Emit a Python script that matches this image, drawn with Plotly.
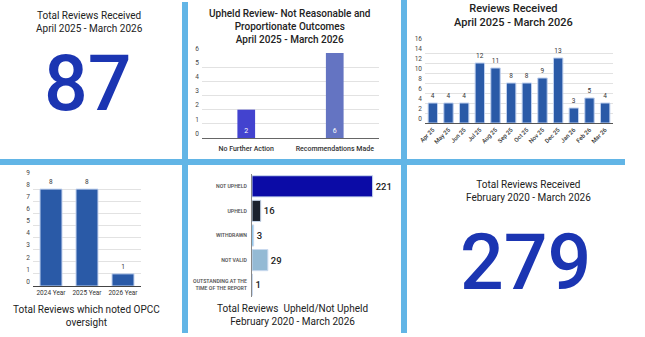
import plotly.graph_objects as go

W, H = 645, 337

# ---------------- data ----------------
kpi_year_title = "Total Reviews Received<br>April 2025 - March 2026"
kpi_year_value = 87
kpi_all_title = "Total Reviews Received<br>February 2020 - March 2026"
kpi_all_value = 279

upheld_cats = ["No Further Action", "Recommendations Made"]
upheld_vals = [2, 6]
upheld_colors = ["#4343CF", "#6474C2"]

month_cats = ["Apr 25", "May 25", "Jun 25", "Jul 25", "Aug 25", "Sep 25",
              "Oct 25", "Nov 25", "Dec 25", "Jan 26", "Feb 26", "Mar 26"]
month_vals = [4, 4, 4, 12, 11, 8, 8, 9, 13, 3, 5, 4]

opcc_cats = ["2024 Year", "2025 Year", "2026 Year"]
opcc_vals = [8, 8, 1]

outcome_cats = ["NOT UPHELD", "UPHELD", "WITHDRAWN", "NOT VALID",
                "OUTSTANDING AT THE<br>TIME OF THE REPORT"]
outcome_vals = [221, 16, 3, 29, 1]
outcome_colors = ["#0B0BA6", "#1B222E", "#5DB8EA", "#94BAD4", "#8A7FC0"]

# ---------------- helpers ----------------
def px(x):
    return x / W

def py(y):
    return 1 - y / H

FONT = "Roboto"
BAR_BLUE = "#2A5AA7"
SEP = "#62B5E6"
NUM_BLUE = "#1B35B2"

fig = go.Figure()

# Panel 2: upheld review outcomes
fig.add_trace(go.Bar(
    x=upheld_cats, y=upheld_vals, marker=dict(color=upheld_colors, line=dict(width=0)),
    width=0.2, text=upheld_vals, textposition="inside", insidetextanchor="start",
    textfont=dict(family=FONT, size=7, color="white"),
    xaxis="x", yaxis="y", hoverinfo="skip"))

# Panel 3: monthly reviews
fig.add_trace(go.Bar(
    x=month_cats, y=month_vals,
    marker=dict(color=BAR_BLUE, line=dict(color="#BFD0EE", width=1)),
    width=0.6, text=month_vals, textposition="outside", cliponaxis=False,
    textfont=dict(family=FONT, size=6.5, color="#333"),
    xaxis="x2", yaxis="y2", hoverinfo="skip"))

# Panel 4: OPCC oversight
fig.add_trace(go.Bar(
    x=opcc_cats, y=opcc_vals,
    marker=dict(color=BAR_BLUE, line=dict(color="#BFD0EE", width=1)),
    width=0.61, text=opcc_vals, textposition="outside", cliponaxis=False,
    textfont=dict(family=FONT, size=6.5, color="#333"),
    xaxis="x3", yaxis="y3", hoverinfo="skip"))

# Panel 5: outcomes horizontal
fig.add_trace(go.Bar(
    y=outcome_cats, x=outcome_vals, orientation="h",
    marker=dict(color=outcome_colors, line=dict(color="#C9D9EE", width=1)),
    width=0.86, text=outcome_vals, textposition="outside", cliponaxis=False,
    textfont=dict(family=FONT, size=9.5, color="#222", weight=500),
    xaxis="x4", yaxis="y4", hoverinfo="skip"))

tickfont = dict(family=FONT, size=6.5, color="#444")
grid = "#E2E2E2"

layout = dict(
    width=W, height=H, margin=dict(l=0, r=0, t=0, b=0, autoexpand=False),
    paper_bgcolor="white", plot_bgcolor="white", showlegend=False,
    font=dict(family=FONT),
    # panel 2
    xaxis=dict(domain=[px(202), px(379)], anchor="y", range=[-0.5, 1.5], automargin=False,
               showgrid=False, ticks="", tickfont=dict(family=FONT, size=7, color="#333", weight=500),
               ticklabelstandoff=4,
               showline=True, linecolor="#666", linewidth=1, fixedrange=True),
    yaxis=dict(domain=[py(138), py(53)], anchor="x", range=[0, 6], dtick=1, automargin=False,
               showgrid=True, gridcolor=grid, zeroline=False, ticks="",
               ticklabelposition="outside top", tickfont=tickfont, ticklabelstandoff=2),
    # panel 3
    xaxis2=dict(domain=[px(425), px(613)], anchor="y2", range=[-0.5, 11.5], automargin=False,
                showgrid=False, ticks="", tickangle=-45,
                tickfont=dict(family=FONT, size=6, color="#333", weight=500),
                showline=True, linecolor="#555", linewidth=1),
    yaxis2=dict(domain=[py(123), py(43)], anchor="x2", range=[0, 16], dtick=2, automargin=False,
                showgrid=True, gridcolor=grid, zeroline=False, ticks="",
                ticklabelposition="outside top", tickfont=tickfont, ticklabelstandoff=2),
    # panel 4
    xaxis3=dict(domain=[px(33), px(141)], anchor="y3", range=[-0.5, 2.5], automargin=False,
                showgrid=False, ticks="",
                tickfont=dict(family=FONT, size=6.5, color="#333"),
                showline=True, linecolor="#444", linewidth=1),
    yaxis3=dict(domain=[py(286), py(177)], anchor="x3", range=[0, 9], dtick=1, automargin=False,
                showgrid=True, gridcolor=grid, zeroline=False, ticks="",
                ticklabelposition="outside top", tickfont=tickfont, ticklabelstandoff=2),
    # panel 5
    xaxis4=dict(domain=[px(252), px(383)], anchor="y4", range=[0, 240], automargin=False,
                visible=False),
    yaxis4=dict(domain=[py(297), py(174)], anchor="x4", range=[4.5, -0.5], automargin=False,
                showgrid=False, ticks="", showline=True, linecolor="#888", linewidth=1,
                tickfont=dict(family=FONT, size=5.2, color="#555", weight=600),
                ticklabelstandoff=3),
)
fig.update_layout(**layout)

# ---------------- separators ----------------
shapes = [
    dict(type="line", xref="paper", yref="paper", x0=px(185), x1=px(185), y0=py(2), y1=py(333),
         line=dict(color=SEP, width=6)),
    dict(type="line", xref="paper", yref="paper", x0=px(404), x1=px(404), y0=py(0), y1=py(333),
         line=dict(color=SEP, width=6)),
    dict(type="line", xref="paper", yref="paper", x0=px(0), x1=px(625), y0=py(162), y1=py(162),
         line=dict(color=SEP, width=6)),
]
fig.update_layout(shapes=shapes)

# ---------------- text ----------------
ann = []
def title(text, x, y, size=10.5, weight=400):
    ann.append(dict(text=text, x=px(x), y=py(y), xref="paper", yref="paper",
                    showarrow=False, xanchor="center", yanchor="middle",
                    font=dict(family=FONT, size=size, color="#222", weight=weight)))

title(kpi_year_title, 89, 22, size=10)
title("Upheld Review- Not Reasonable and<br>Proportionate Outcomes<br>April 2025 - March 2026",
      290, 27, size=10, weight=500)
title("Reviews Received<br>April 2025 - March 2026", 513, 15.5, size=11, weight=500)
title("Total Reviews which noted OPCC<br>oversight", 86, 315.5, size=10)
title("Total Reviews  Upheld/Not Upheld<br>February 2020 - March 2026", 292, 314.5, size=10)
title(kpi_all_title, 528, 190.5, size=10)

def big(value, x, y):
    ann.append(dict(text=str(value), x=px(x), y=py(y), xref="paper", yref="paper",
                    showarrow=False, xanchor="center", yanchor="middle",
                    font=dict(family=FONT, size=77, color=NUM_BLUE, weight=500)))

big(kpi_year_value, 88, 84)
big(kpi_all_value, 525, 263)

fig.update_layout(annotations=ann)

fig.write_html("out.html")
